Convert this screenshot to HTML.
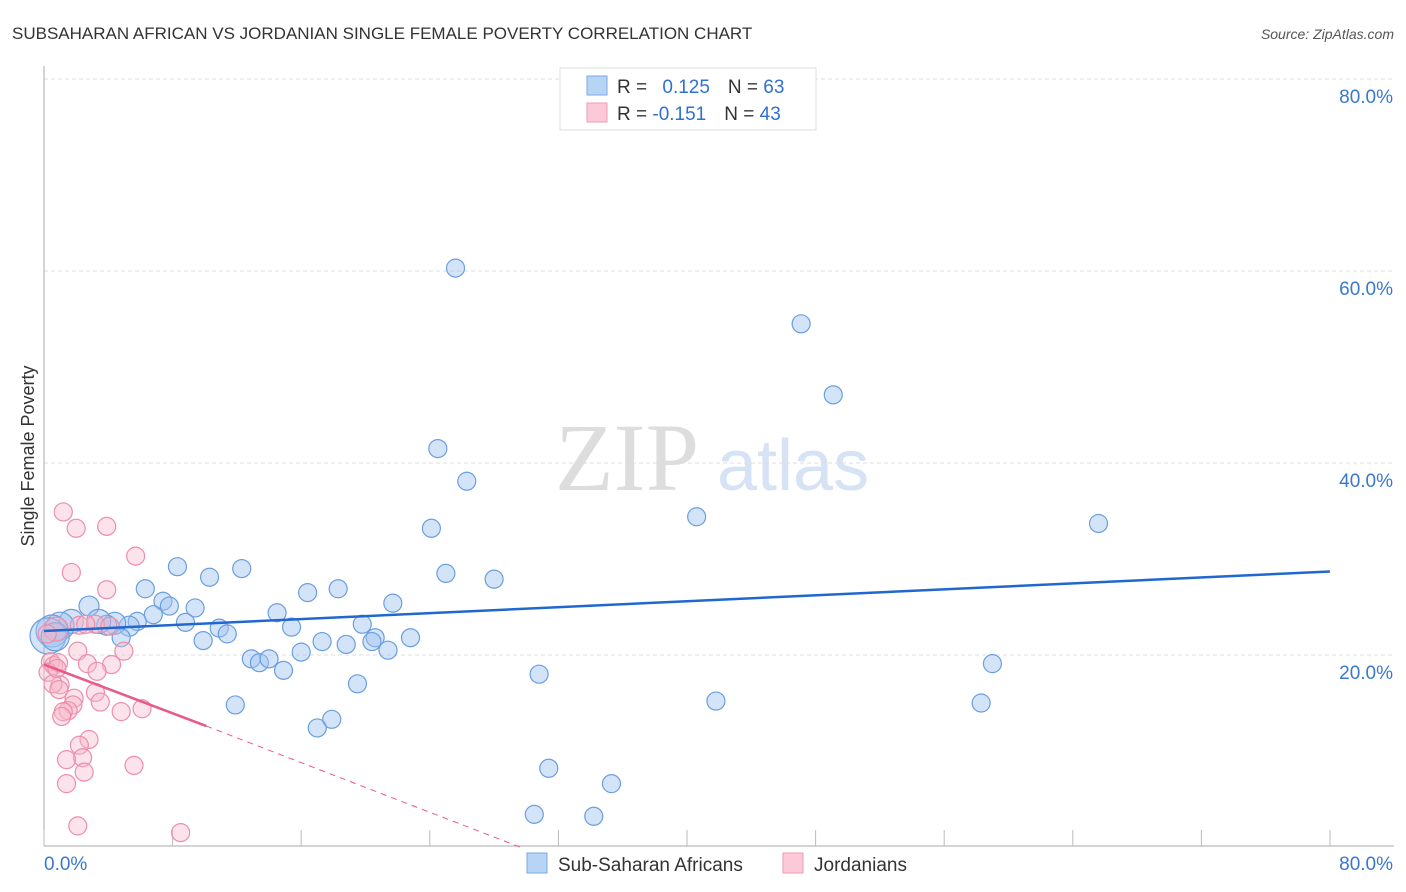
<!DOCTYPE html>
<html><head><meta charset="utf-8"><style>
body{margin:0;background:#fff;font-family:"Liberation Sans",sans-serif}
svg{display:block}
</style></head><body>
<svg id="chart" width="1406" height="892" xmlns="http://www.w3.org/2000/svg">
<text x="12" y="39" font-size="17" fill="#333" font-family="Liberation Sans, sans-serif">SUBSAHARAN AFRICAN VS JORDANIAN SINGLE FEMALE POVERTY CORRELATION CHART</text>
<text x="1394" y="39" font-size="14" fill="#555" font-style="italic" text-anchor="end">Source: ZipAtlas.com</text>
<text x="555" y="490" font-size="96" fill="#ddd" font-family="Liberation Serif, serif">ZIP</text>
<text x="717" y="490" font-size="72" fill="#d5e3f5">atlas</text>
<text transform="translate(34,456) rotate(-90)" font-size="18" fill="#333" text-anchor="middle">Single Female Poverty</text>
<g id="grid"></g><g id="axes"></g><g id="pts"></g><g id="lines"></g>
<g>
<rect x="560" y="68" width="256" height="62" fill="#fff" stroke="#ddd"/>
<rect x="587" y="76" width="20" height="19" fill="#b8d4f5" stroke="#7aaae8"/>
<rect x="587" y="103" width="20" height="19" fill="#fbc9d8" stroke="#f09ab5"/>
<text x="617" y="93" font-size="19" fill="#333">R = <tspan fill="#3070d0" dx="10">0.125</tspan><tspan fill="#333" dx="18">N = </tspan><tspan fill="#3070d0">63</tspan></text>
<text x="617" y="120" font-size="19" fill="#333">R = <tspan fill="#3070d0">-0.151</tspan><tspan fill="#333" dx="18">N = </tspan><tspan fill="#3070d0">43</tspan></text>
</g>
<g>
<rect x="527" y="853" width="20" height="20" fill="#b8d4f5" stroke="#7aaae8"/>
<text x="558" y="871" font-size="19" fill="#333">Sub-Saharan Africans</text>
<rect x="783" y="853" width="20" height="20" fill="#fbc9d8" stroke="#f09ab5"/>
<text x="814" y="871" font-size="19" fill="#333">Jordanians</text>
</g>
</svg>
<script>
const yTicks=[20,40,60,80];
const xTickLabels=["0.0%","80.0%"];
const blueX=[25.6,47.1,49.1,24.5,26.3,40.6,65.6,24.1,25,28,8.3,12.3,10.3,6.3,7.4,7.8,9.4,6.8,16.4,18.3,21.7,14.5,2.8,8.8,5.8,5.3,4.4,3.9,3.4,1.7,1,0.5,0.25,10.9,11.4,15.4,19.8,20.6,20.4,22.8,17.3,18.8,9.9,4.8,16,21.4,12.9,13.4,14,14.9,19.5,30.8,59,11.9,41.8,58.3,17.9,17,31.4,35.3,30.5,34.2,0.7];
const blueY=[60.3,54.5,47.1,41.5,38.1,34.4,33.7,33.2,28.5,27.9,29.2,29,28.1,26.9,25.6,25.1,24.9,24.2,26.5,26.9,25.4,24.4,25.1,23.4,23.5,23,23.3,23.1,23.5,23.5,23,22.5,22,22.8,22.2,22.9,23.2,21.8,21.4,21.8,21.4,21.1,21.5,21.8,20.3,20.5,19.6,19.2,19.6,18.4,17,18,19.1,14.8,15.2,15,13.3,12.4,8.2,6.6,3.4,3.2,21.9];
const blueR=[9,9,9,9,9,9,9,9,9,9,9,9,9,9,9,9,9,9,9,9,9,9,10,9,9,10,11,10,12,12,14,16,18,9,9,9,9,9,9,9,9,9,9,9,9,9,9,9,9,9,9,9,9,9,9,9,9,9,9,9,9,9,14];
const pinkX=[1.2,2,3.9,5.7,1.7,3.9,0.75,0.2,2.2,3.2,4.1,2.6,4.97,2.1,0.4,0.6,0.9,0.25,1,2.7,4.2,3.3,0.56,3.2,0.93,1.87,1.8,3.5,1.5,1.2,4.8,6.1,2.8,2.2,2.4,1.4,2.5,5.6,1.4,2.1,8.5,0.8,1.1];
const pinkY=[34.9,33.2,33.4,30.3,28.6,26.8,22.7,22.2,23.1,23.2,23,23.2,20.4,20.4,19.3,18.9,19.2,18.2,16.9,19.1,19,18.3,17,16.1,16.4,15.5,14.8,15.1,14.2,14.1,14.1,14.4,11.2,10.6,9.3,9.1,7.8,8.5,6.6,2.2,1.5,18.6,13.6];
const pinkR=[9,9,9,9,9,9,12,9,9,9,9,9,9,9,9,9,9,9,9,9,9,9,9,9,9,9,9,9,9,9,9,9,9,9,9,9,9,9,9,9,9,9,9];
const blueTrend=[22.5,28.7];
const pinkTrend=[19,12.6,0];
const pinkTrendX=[0,10.1,29.6];
const NS="http://www.w3.org/2000/svg";
const X=v=>44+v*16.075, Y=v=>847-v*9.6;
function mk(t,a,p){const e=document.createElementNS(NS,t);for(const k in a)e.setAttribute(k,a[k]);p.appendChild(e);return e;}
const grid=document.getElementById('grid'),axes=document.getElementById('axes'),pts=document.getElementById('pts'),lines=document.getElementById('lines');
yTicks.forEach(t=>{
 const l=mk('line',{x1:44,x2:1394,y1:Y(t),y2:Y(t),stroke:'#ddd','stroke-dasharray':'4,3'},grid);
 
 
 const tx=mk('text',{x:1393,y:Y(t)+24,'font-size':19,fill:'#3a78d0','text-anchor':'end'},grid);
 tx.textContent=t.toFixed(1)+'%';
 
 
});
const ya=mk('line',{x1:44,x2:44,y1:66,y2:846,stroke:'#aaa'},axes);


const xa=mk('line',{x1:44,x2:1394,y1:846,y2:846,stroke:'#aaa'},axes);


for(let i=0;i<=10;i++){const tk=mk('line',{x1:X(i*8),x2:X(i*8),y1:830,y2:846,stroke:'#bbb'},axes);
 
 }
const xl0=mk('text',{x:44,y:870,'font-size':19,fill:'#3a78d0'},axes);xl0.textContent=xTickLabels[0];


const xl1=mk('text',{x:1393,y:870,'font-size':19,fill:'#3a78d0','text-anchor':'end'},axes);xl1.textContent=xTickLabels[1];


blueX.forEach((v,i)=>{const c=mk('circle',{cx:X(v),cy:Y(blueY[i]),r:blueR[i],fill:'rgba(160,196,240,0.45)',stroke:'#6a9ee0','stroke-width':1.2},pts);
 
 });
pinkX.forEach((v,i)=>{const c=mk('circle',{cx:X(v),cy:Y(pinkY[i]),r:pinkR[i],fill:'rgba(248,182,202,0.4)',stroke:'#ec8eac','stroke-width':1.2},pts);
 
 });
const bl=mk('line',{x1:X(0),y1:Y(blueTrend[0]),x2:X(80),y2:Y(blueTrend[1]),stroke:'#2068d0','stroke-width':2.5},lines);


const pl=mk('line',{x1:X(pinkTrendX[0]),y1:Y(pinkTrend[0]),x2:X(pinkTrendX[1]),y2:Y(pinkTrend[1]),stroke:'#e85a8a','stroke-width':2.5},lines);


const pd=mk('line',{x1:X(pinkTrendX[1]),y1:Y(pinkTrend[1]),x2:X(pinkTrendX[2]),y2:Y(pinkTrend[2]),stroke:'#e85a8a','stroke-width':1,'stroke-dasharray':'6,5'},lines);


</script>
</body></html>
